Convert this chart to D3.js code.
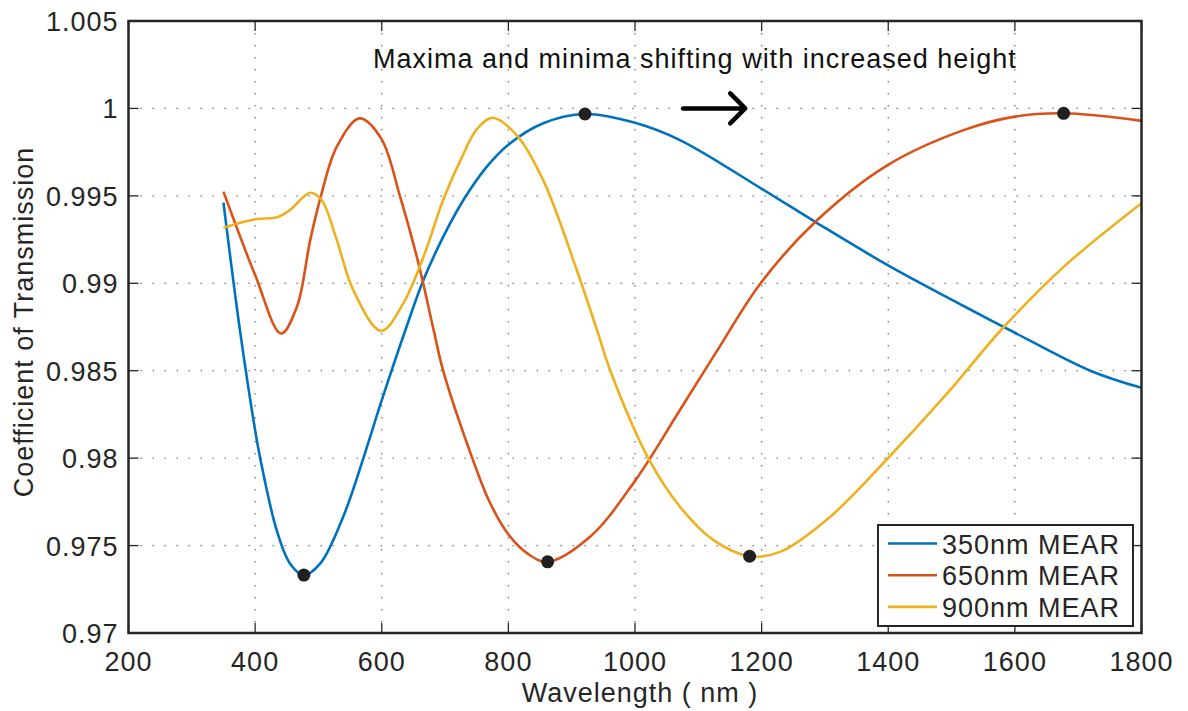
<!DOCTYPE html>
<html>
<head>
<meta charset="utf-8">
<script src="https://cdn.jsdelivr.net/npm/d3@7"></script>
<style>
  body { margin: 0; background: #fff; }
  text { font-family: "Liberation Sans", Arial, Helvetica, sans-serif; font-size: 27px; letter-spacing: 1px; fill: #262626; }
</style>
</head>
<body>
<div id="chart"></div>
<script>
// wavelength (nm) / transmission
var wl350 = [350, 376, 400, 408, 434, 455, 477, 503, 539, 571, 599, 640, 666, 697, 729, 766, 799, 855, 921, 1000, 1071, 1199, 1287, 1399, 1519, 1600, 1719, 1800];
var t350 = [0.99461, 0.98732, 0.98160, 0.98000, 0.97588, 0.97398, 0.97331, 0.97398, 0.97664, 0.98000, 0.98320, 0.98760, 0.99020, 0.99265, 0.99476, 0.99667, 0.99790, 0.99915, 0.99968, 0.99918, 0.99819, 0.99543, 0.99346, 0.99104, 0.98870, 0.98717, 0.98500, 0.98402];

var wl650 = [350, 400, 441, 466, 487, 504, 529, 565, 599, 629, 658, 682, 697, 745, 770, 799, 830, 862, 929, 1000, 1071, 1132, 1199, 1285, 1399, 1519, 1600, 1677, 1800];
var t650 = [0.99524, 0.99047, 0.98713, 0.98866, 0.99247, 0.99500, 0.99781, 0.99943, 0.99829, 0.99495, 0.99114, 0.98732, 0.98500, 0.97980, 0.97752, 0.97569, 0.97455, 0.97407, 0.97550, 0.97870, 0.98275, 0.98628, 0.99003, 0.99352, 0.99676, 0.99876, 0.99953, 0.99972, 0.99929];

var wl900 = [350, 400, 434, 455, 487, 505, 529, 555, 599, 634, 666, 697, 729, 750, 775, 813, 855, 908, 940, 961, 1021, 1071, 1124, 1181, 1229, 1308, 1399, 1493, 1580, 1677, 1800];
var t900 = [0.99318, 0.99366, 0.99377, 0.99419, 0.99518, 0.99476, 0.99247, 0.98961, 0.98728, 0.98885, 0.99152, 0.99476, 0.99740, 0.99880, 0.99947, 0.99848, 0.99590, 0.99076, 0.98732, 0.98500, 0.98000, 0.97722, 0.97531, 0.97439, 0.97464, 0.97664, 0.97998, 0.98370, 0.98740, 0.99094, 0.99458];

// marked extrema
var markWl = [477, 921, 862, 1677, 1181];
var markT = [0.97331, 0.99968, 0.97407, 0.99972, 0.97439];

var seriesNames = ["350nm MEAR", "650nm MEAR", "900nm MEAR"];
var seriesColors = ["#0072BD", "#D95319", "#EDB120"];

var xTicks = [200, 400, 600, 800, 1000, 1200, 1400, 1600, 1800];
var yTicks = [0.97, 0.975, 0.98, 0.985, 0.99, 0.995, 1, 1.005];
var yTickLabels = ["0.97", "0.975", "0.98", "0.985", "0.99", "0.995", "1", "1.005"];

var W = 1188, H = 711;
var margin = {top: 21, right: 46.5, bottom: 78, left: 128.5},
    width = W - margin.left - margin.right,
    height = H - margin.top - margin.bottom;

var svg = d3.select("#chart").append("svg")
    .attr("width", W)
    .attr("height", H);

var g = svg.append("g")
    .attr("transform", "translate(" + margin.left + "," + margin.top + ")");

var x = d3.scaleLinear().domain([200, 1800]).range([0, width]);
var y = d3.scaleLinear().domain([0.97, 1.005]).range([height, 0]);

// grid
g.append("g").selectAll("line").data(xTicks.slice(1, -1)).enter().append("line")
    .attr("x1", function (d) { return x(d); })
    .attr("x2", function (d) { return x(d); })
    .attr("y1", 0).attr("y2", height)
    .attr("stroke", "#7a7a7a").attr("stroke-width", 1.3)
    .attr("stroke-dasharray", "1.5,10.5");
g.append("g").selectAll("line").data(yTicks.slice(1, -1)).enter().append("line")
    .attr("y1", function (d) { return y(d); })
    .attr("y2", function (d) { return y(d); })
    .attr("x1", 0).attr("x2", width)
    .attr("stroke", "#7a7a7a").attr("stroke-width", 1.3)
    .attr("stroke-dasharray", "1.5,10.5");

// curves
var line = d3.line()
    .x(function (d) { return x(d[0]); })
    .y(function (d) { return y(d[1]); })
    .curve(d3.curveCatmullRom.alpha(0.5));

var series = [d3.zip(wl350, t350), d3.zip(wl650, t650), d3.zip(wl900, t900)];
series.forEach(function (s, i) {
    g.append("path")
        .datum(s)
        .attr("fill", "none")
        .attr("stroke", seriesColors[i])
        .attr("stroke-width", 2.6)
        .attr("d", line);
});

// markers
g.selectAll("circle.mark").data(d3.zip(markWl, markT)).enter().append("circle")
    .attr("class", "mark")
    .attr("cx", function (d) { return x(d[0]); })
    .attr("cy", function (d) { return y(d[1]); })
    .attr("r", 6.5)
    .attr("fill", "#231f20");

// axes box and ticks (inward, all four sides)
var axisColor = "#262626";
g.append("rect")
    .attr("width", width).attr("height", height)
    .attr("fill", "none").attr("stroke", axisColor).attr("stroke-width", 2.5);

var tk = 10;
xTicks.forEach(function (d) {
    g.append("line").attr("x1", x(d)).attr("x2", x(d)).attr("y1", height).attr("y2", height - tk)
        .attr("stroke", axisColor).attr("stroke-width", 1.3);
    g.append("line").attr("x1", x(d)).attr("x2", x(d)).attr("y1", 0).attr("y2", tk)
        .attr("stroke", axisColor).attr("stroke-width", 1.3);
    g.append("text").attr("x", x(d)).attr("y", height + 38)
        .attr("text-anchor", "middle").text(d);
});
yTicks.forEach(function (d, i) {
    g.append("line").attr("x1", 0).attr("x2", tk).attr("y1", y(d)).attr("y2", y(d))
        .attr("stroke", axisColor).attr("stroke-width", 1.3);
    g.append("line").attr("x1", width).attr("x2", width - tk).attr("y1", y(d)).attr("y2", y(d))
        .attr("stroke", axisColor).attr("stroke-width", 1.3);
    g.append("text").attr("x", -10).attr("y", y(d) + 10)
        .attr("text-anchor", "end").text(yTickLabels[i]);
});

// axis labels
svg.append("text")
    .attr("x", 640).attr("y", 702)
    .attr("text-anchor", "middle")
    .text("Wavelength ( nm )");
svg.append("text")
    .attr("transform", "translate(33,322) rotate(-90)")
    .attr("text-anchor", "middle")
    .text("Coefficient of Transmission");

// annotation
g.append("text")
    .attr("x", 373 - margin.left).attr("y", 68 - margin.top)
    .style("fill", "#111")
    .text("Maxima and minima shifting with increased height");

var ax0 = x(1076), ax1 = x(1174), ay = y(1);
g.append("path")
    .attr("d", "M" + ax0 + "," + ay + "H" + ax1 +
        "M" + (ax1 - 15) + "," + (ay - 15) + "L" + ax1 + "," + ay + "L" + (ax1 - 15) + "," + (ay + 15))
    .attr("fill", "none").attr("stroke", "#000").attr("stroke-width", 4.5)
    .attr("stroke-linecap", "round").attr("stroke-linejoin", "round");

// legend
var lg = svg.append("g").attr("transform", "translate(878,525)");
lg.append("rect").attr("width", 255).attr("height", 101)
    .attr("fill", "#fff").attr("stroke", axisColor).attr("stroke-width", 2);
seriesNames.forEach(function (n, i) {
    var yy = 18.5 + i * 31.7;
    lg.append("line").attr("x1", 10).attr("x2", 59).attr("y1", yy).attr("y2", yy)
        .attr("stroke", seriesColors[i]).attr("stroke-width", 2.6);
    lg.append("text").attr("x", 64).attr("y", yy + 10).text(n);
});
</script>
</body>
</html>
